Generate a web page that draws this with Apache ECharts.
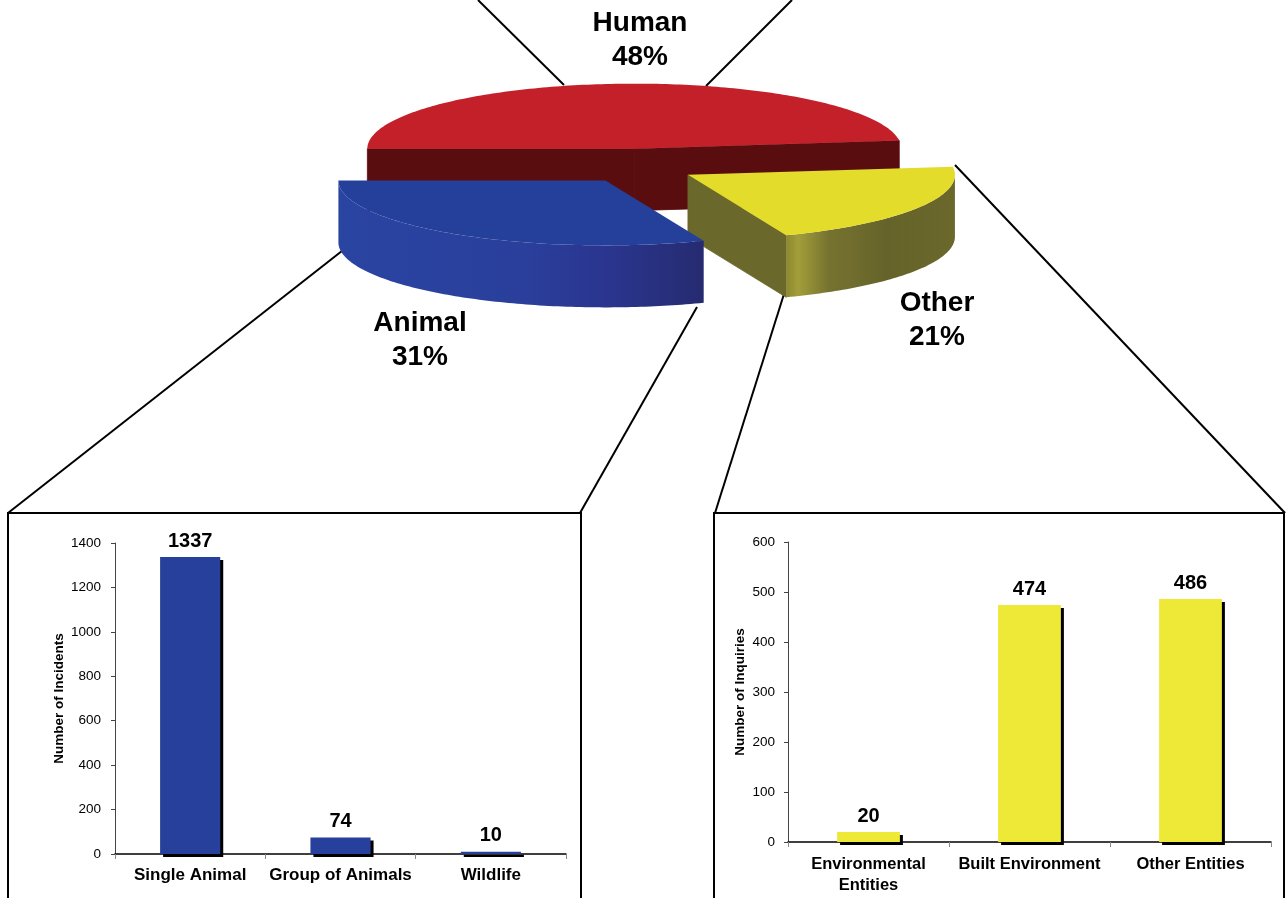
<!DOCTYPE html>
<html>
<head>
<meta charset="utf-8">
<script src="https://cdn.jsdelivr.net/npm/echarts@6/dist/echarts.min.js"></script>
<style>
html,body{margin:0;padding:0;background:#fff;}
#c{width:1286px;height:898px;}
</style>
</head>
<body>
<div id="c"></div>
<script>
// ---------------- data ----------------
const pieNames = ['Human', 'Animal', 'Other'];
const pieValues = [48, 31, 21];

const animalCategories = ['Single Animal', 'Group of Animals', 'Wildlife'];
const animalValues = [1337, 74, 10];
const animalTicks = [0, 200, 400, 600, 800, 1000, 1200, 1400];

const otherCategories = ['Environmental\nEntities', 'Built Environment', 'Other Entities'];
const otherValues = [20, 474, 486];
const otherTicks = [0, 100, 200, 300, 400, 500, 600];

// ---------------- styles ----------------
const FONT = '"Liberation Sans", Arial, Helvetica, sans-serif';
const sliceStyles = [
  { top: '#c3202a', face: '#5a0d0f', wall: [['#5a0d0f', 0], ['#5a0d0f', 1]] },
  { top: '#25409b', face: '#22307e', wall: [['#2a44a2', 0], ['#2a3f9c', 0.5], ['#2a3690', 0.72], ['#262b70', 1]] },
  { top: '#e3dc2b', face: '#6a682b', wall: [['#8c8831', 0], ['#a29e3a', 0.07], ['#767330', 0.25], ['#66632a', 0.6], ['#6b682c', 1]] }
];

// pie geometry (screen layout)
const CX = 638, CY = 166, RX = 267, RY = 65, H = 62;
const EXPLODE = 58, EXPLODE_KY = 0.3, START = 7.2;
const pieTotal = pieValues.reduce((a, b) => a + b, 0);

function wallFill(st) {
  return new echarts.graphic.LinearGradient(0, 0, 1, 0,
    st.wall.map(([c, o]) => ({ offset: o, color: c })));
}

function renderSlice(params, api) {
  const i = params.dataIndex;
  let a0 = START;
  for (let k = 0; k < i; k++) a0 += pieValues[k] / pieTotal * 360;
  const a1 = a0 + api.value(0) / pieTotal * 360;
  const mid = (a0 + a1) / 2 * Math.PI / 180;
  const cx = CX + EXPLODE * Math.cos(mid);
  const cy = CY - EXPLODE * EXPLODE_KY * Math.sin(mid);
  const P = (deg, dz) => {
    const r = deg * Math.PI / 180;
    return [cx + RX * Math.cos(r), cy - RY * Math.sin(r) + (dz || 0)];
  };
  const arc = (s, e, dz) => {
    const pts = [];
    const n = Math.max(2, Math.ceil(Math.abs(e - s)));
    for (let k = 0; k <= n; k++) pts.push(P(s + (e - s) * k / n, dz));
    return pts;
  };
  const st = sliceStyles[i];
  const base = Math.round(cy) * 10;
  const children = [];
  const c0 = [cx, cy], c0b = [cx, cy + H];
  // radial cut faces (only those facing the viewer)
  if (Math.cos(a0 * Math.PI / 180) > 0) {
    children.push({ type: 'polygon', z2: base, shape: { points: [c0, P(a0, 0), P(a0, H), c0b] }, style: { fill: st.face, stroke: st.face, lineWidth: 0.8 } });
  }
  if (Math.cos(a1 * Math.PI / 180) < 0) {
    children.push({ type: 'polygon', z2: base, shape: { points: [c0, P(a1, 0), P(a1, H), c0b] }, style: { fill: st.face, stroke: st.face, lineWidth: 0.8 } });
  }
  // outer wall (front half only)
  [[180, 360], [540, 720]].forEach(([lo, hi]) => {
    const s = Math.max(a0, lo), e = Math.min(a1, hi);
    if (e > s) {
      const pts = arc(s, e, 0).concat(arc(e, s, H));
      children.push({ type: 'polygon', z2: base + 1, shape: { points: pts }, style: { fill: wallFill(st) } });
    }
  });
  // top face
  children.push({ type: 'polygon', z2: base + 2, shape: { points: [c0].concat(arc(a0, a1, 0)) }, style: { fill: st.top } });
  return { type: 'group', children };
}

const labelStyle = (txt) => ({
  text: txt, fontSize: 28, fontWeight: 'bold', fontFamily: FONT,
  fill: '#000', align: 'center', verticalAlign: 'top', lineHeight: 34
});
const pieLabel = (i) => pieNames[i] + '\n' + pieValues[i] + '%';
const plain = (v) => String(v);

const chart = echarts.init(document.getElementById('c'), null, { renderer: 'canvas' });

const option = {
  backgroundColor: '#fff',
  animation: false,
  grid: [
    { left: 115, top: 543, width: 451, height: 311 },
    { left: 788, top: 542, width: 483, height: 300 }
  ],
  xAxis: [
    {
      gridIndex: 0, type: 'category', data: animalCategories,
      axisLine: { lineStyle: { color: '#000', width: 1.5 } },
      axisTick: { show: true, length: 5, lineStyle: { color: '#888' } },
      axisLabel: { interval: 0, fontSize: 17, fontWeight: 'bold', color: '#000', margin: 11, lineHeight: 20, fontFamily: FONT },
      splitLine: { show: false }
    },
    {
      gridIndex: 1, type: 'category', data: otherCategories,
      axisLine: { lineStyle: { color: '#000', width: 1.5 } },
      axisTick: { show: true, length: 5, lineStyle: { color: '#888' } },
      axisLabel: { interval: 0, fontSize: 16.5, fontWeight: 'bold', color: '#000', margin: 12, lineHeight: 21, fontFamily: FONT },
      splitLine: { show: false }
    }
  ],
  yAxis: [
    {
      gridIndex: 0, type: 'value',
      min: animalTicks[0], max: animalTicks[animalTicks.length - 1], interval: animalTicks[1] - animalTicks[0],
      name: 'Number of Incidents', nameLocation: 'middle', nameRotate: 90, nameGap: 49,
      nameTextStyle: { fontSize: 13.5, fontWeight: 'bold', color: '#000', fontFamily: FONT },
      axisLine: { show: true, lineStyle: { color: '#444', width: 1 } },
      axisTick: { show: true, length: 4, lineStyle: { color: '#444' } },
      axisLabel: { fontSize: 13.5, color: '#000', margin: 14, fontFamily: FONT, formatter: plain },
      splitLine: { show: false }
    },
    {
      gridIndex: 1, type: 'value',
      min: otherTicks[0], max: otherTicks[otherTicks.length - 1], interval: otherTicks[1] - otherTicks[0],
      name: 'Number of Inquiries', nameLocation: 'middle', nameRotate: 90, nameGap: 41,
      nameTextStyle: { fontSize: 13.5, fontWeight: 'bold', color: '#000', fontFamily: FONT },
      axisLine: { show: true, lineStyle: { color: '#444', width: 1 } },
      axisTick: { show: true, length: 4, lineStyle: { color: '#444' } },
      axisLabel: { fontSize: 13.5, color: '#000', margin: 13, fontFamily: FONT, formatter: plain },
      splitLine: { show: false }
    }
  ],
  graphic: [
    // boxes
    { type: 'rect', z: 1, shape: { x: 8, y: 513, width: 573, height: 420 }, style: { fill: 'none', stroke: '#000', lineWidth: 2 } },
    { type: 'rect', z: 1, shape: { x: 714, y: 513, width: 570, height: 420 }, style: { fill: 'none', stroke: '#000', lineWidth: 2 } },
    // connector lines
    { type: 'line', z: 1, shape: { x1: 8, y1: 513, x2: 347, y2: 247 }, style: { stroke: '#000', lineWidth: 2 } },
    { type: 'line', z: 1, shape: { x1: 580, y1: 513, x2: 697, y2: 307 }, style: { stroke: '#000', lineWidth: 2 } },
    { type: 'line', z: 1, shape: { x1: 715, y1: 513, x2: 784, y2: 294 }, style: { stroke: '#000', lineWidth: 2 } },
    { type: 'line', z: 1, shape: { x1: 1285, y1: 513, x2: 955, y2: 165 }, style: { stroke: '#000', lineWidth: 2 } },
    { type: 'line', z: 1, shape: { x1: 478, y1: 0, x2: 564, y2: 85 }, style: { stroke: '#000', lineWidth: 2 } },
    { type: 'line', z: 1, shape: { x1: 792, y1: 0, x2: 706, y2: 86 }, style: { stroke: '#000', lineWidth: 2 } },
    // pie labels
    { type: 'text', z: 10, x: 640, y: 6, style: labelStyle(pieLabel(0)) },
    { type: 'text', z: 10, x: 420, y: 306, style: labelStyle(pieLabel(1)) },
    { type: 'text', z: 10, x: 937, y: 286, style: labelStyle(pieLabel(2)) }
  ],
  series: [
    {
      type: 'custom', coordinateSystem: 'none', silent: true, z: 5,
      renderItem: renderSlice,
      data: pieValues.map((v, i) => ({ name: pieNames[i], value: [v] }))
    },
    {
      type: 'bar', xAxisIndex: 0, yAxisIndex: 0, data: animalValues, barWidth: '40%',
      itemStyle: { color: '#27409b', shadowColor: '#000', shadowOffsetX: 3, shadowOffsetY: 3, shadowBlur: 0 },
      label: { show: true, position: 'top', distance: 5, fontSize: 20, fontWeight: 'bold', color: '#000', lineHeight: 22, fontFamily: FONT }
    },
    {
      type: 'bar', xAxisIndex: 1, yAxisIndex: 1, data: otherValues, barWidth: '39%',
      itemStyle: { color: '#eee936', shadowColor: '#000', shadowOffsetX: 3, shadowOffsetY: 3, shadowBlur: 0 },
      label: { show: true, position: 'top', distance: 5, fontSize: 20, fontWeight: 'bold', color: '#000', lineHeight: 22, fontFamily: FONT }
    }
  ]
};
chart.setOption(option);
</script>
</body>
</html>
